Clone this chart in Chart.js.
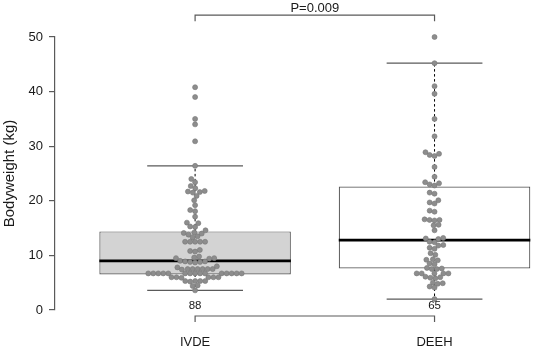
<!DOCTYPE html>
<html><head><meta charset="utf-8">
<script src="https://cdn.jsdelivr.net/npm/chart.js@4/dist/chart.umd.min.js"></script>
<style>html,body{margin:0;padding:0;background:#fff}#wrap{width:536px;height:349px}</style>
</head><body><div id="wrap"><canvas id="c" width="536" height="349"></canvas></div>
<script>
const categories = ['IVDE', 'DEEH'];
const sampleSizes = ['88', '65'];
const ivdeValues = [
  40.8, 39.0, 35.0, 34.0, 30.9,
  26.4, 24.0, 23.4, 22.7, 22.3,
  21.8, 21.7, 21.6, 21.5,
  20.9, 20.1, 19.2, 18.3, 18.1, 17.1,
  16.0, 15.9, 15.3, 15.2, 14.6,
  14.2, 14.1, 14.0, 13.8, 13.5, 13.3,
  12.5, 12.5, 12.5, 12.5, 12.5,
  11.0, 10.8, 10.7,
  9.8, 9.6, 9.5, 9.5, 9.4,
  9.0, 8.9, 8.9, 8.8, 8.8, 8.7,
  8.0, 7.8,
  7.5, 7.5, 7.5, 7.5, 7.5, 7.5, 7.4,
  6.7, 6.7, 6.7, 6.7, 6.7, 6.7, 6.7, 6.7, 6.7, 6.7, 6.7, 6.7, 6.7, 6.7, 6.7,
  6.0, 6.0, 6.0, 6.0, 6.0, 5.9,
  5.3, 5.3, 5.3, 5.3, 5.2,
  4.5, 4.4,
  3.6
];
const deehValues = [
  50.0, 45.2, 41.0, 39.6, 35.0, 31.8,
  28.9, 28.6, 28.4, 28.2,
  26.2, 24.4,
  23.4, 23.2, 23.0, 22.8,
  21.5, 21.3, 20.1, 19.7, 19.5,
  18.2, 18.0,
  16.6, 16.5, 16.5, 16.4,
  15.6, 15.5, 14.6,
  13.2, 13.1, 13.0,
  12.5, 12.4,
  11.9, 11.8, 11.4, 11.2,
  10.4, 10.1,
  9.3, 9.2, 9.1,
  8.5, 8.4,
  7.6, 7.5, 7.7, 7.5,
  6.7, 6.7, 6.7, 6.7, 6.7,
  6.0, 5.9, 5.8, 6.1,
  5.0, 4.9, 4.8,
  4.3, 4.1,
  2.0
];
const boxQ1 = [6.5, 7.6];
const boxMedian = [9.0, 12.8];
const boxQ3 = [14.4, 22.6];
const whiskerLow = [3.6, 2.0];
const whiskerHigh = [26.4, 45.2];
const yTicks = [0, 10, 20, 30, 40, 50];
const pLabel = 'P=0.009';
const bracketTop = [52.9, 54.0];
const bracketBottom = [-2.2, -1.1];
const pLabelY = 55.3;
const nLabelY = 0.85;

const FONT = "'Liberation Sans', Arial, Helvetica, sans-serif";
const groupValues = [ivdeValues, deehValues];
const boxFill = ['#d3d3d3', '#ffffff'];

const datasets = [];
groupValues.forEach((vals, g) => {
  datasets.push({
    type: 'scatter', order: 0, clip: false,
    data: vals.map(v => ({x: g + 1, y: v})),
    pointRadius: 2.5, pointHoverRadius: 2.5,
    backgroundColor: '#8d8d8d', borderColor: '#777777', borderWidth: 0.6
  });
});
const lineDs = (pts, color, width, dash, order) => ({
  type: 'line', order, clip: false, data: pts, borderColor: color, borderWidth: width,
  borderDash: dash, pointRadius: 0, pointHoverRadius: 0, fill: false, tension: 0, showLine: true
});
categories.forEach((c, g) => {
  const cx = g + 1;
  datasets.push(lineDs([{x: cx - 0.4, y: boxMedian[g]}, {x: cx + 0.4, y: boxMedian[g]}], '#000', 2.6, [], 1));
  datasets.push(lineDs([{x: cx - 0.2, y: whiskerLow[g]}, {x: cx + 0.2, y: whiskerLow[g]}], '#5a5a5a', 1.3, [], 2));
  datasets.push(lineDs([{x: cx - 0.2, y: whiskerHigh[g]}, {x: cx + 0.2, y: whiskerHigh[g]}], '#5a5a5a', 1.3, [], 2));
  datasets.push(lineDs([{x: cx, y: boxQ3[g]}, {x: cx, y: whiskerHigh[g]}], '#000', 1, [2.5, 2.5], 3));
  datasets.push(lineDs([{x: cx, y: boxQ1[g]}, {x: cx, y: whiskerLow[g]}], '#000', 1, [2.5, 2.5], 3));
});
datasets.push({
  type: 'bar', order: 5, clip: false,
  data: categories.map((c, g) => ({x: g + 1, y: [boxQ1[g], boxQ3[g]]})),
  backgroundColor: boxFill, borderColor: '#5a5a5a', borderWidth: 1.2, borderSkipped: false,
  categoryPercentage: 1, barPercentage: 0.8, grouped: false
});
datasets.push(lineDs([{x: 1, y: bracketTop[0]}, {x: 1, y: bracketTop[1]}, {x: 2, y: bracketTop[1]}, {x: 2, y: bracketTop[0]}], '#5a5a5a', 1.2, [], 4));
datasets.push(lineDs([{x: 1, y: bracketBottom[0]}, {x: 1, y: bracketBottom[1]}, {x: 2, y: bracketBottom[1]}, {x: 2, y: bracketBottom[0]}], '#5a5a5a', 1.2, [], 4));

const textPlugin = {
  id: 'texts',
  afterDatasetsDraw(chart) {
    const {ctx, scales: {x, y}} = chart;
    ctx.save();
    ctx.fillStyle = '#1a1a1a';
    ctx.textAlign = 'center';
    ctx.textBaseline = 'middle';
    ctx.font = '13px ' + FONT;
    ctx.fillText(pLabel, x.getPixelForValue(1.5), y.getPixelForValue(pLabelY));
    ctx.font = '11.5px ' + FONT;
    sampleSizes.forEach((s, g) => ctx.fillText(s, x.getPixelForValue(g + 1), y.getPixelForValue(nLabelY)));
    ctx.restore();
  }
};

const chart = new Chart(document.getElementById('c'), {
  type: 'scatter',
  data: {datasets},
  options: {
    responsive: false, animation: false, devicePixelRatio: 1,
    layout: {padding: {top: 37, left: 0, right: 0, bottom: 0}},
    plugins: {legend: {display: false}, tooltip: {enabled: false}},
    scales: {
      x: {
        type: 'linear', min: 0.4149, max: 2.4108, offset: false,
        border: {display: false}, grid: {display: false, drawTicks: false},
        afterBuildTicks: s => { s.ticks = categories.map((c, g) => ({value: g + 1})); },
        ticks: {padding: 25, color: '#1a1a1a', font: {family: FONT, size: 13}, callback: (v) => categories[Math.round(v) - 1] || '', maxRotation: 0, autoSkip: false},
        afterFit: s => { s.height = 39; }
      },
      y: {
        type: 'linear', min: 0, max: 50,
        afterBuildTicks: s => { s.ticks = yTicks.map(v => ({value: v})); },
        border: {display: true, color: '#5a5a5a', width: 1.2},
        grid: {display: true, drawOnChartArea: false, drawTicks: true, tickLength: 6, color: '#5a5a5a', lineWidth: 1.2},
        ticks: {padding: 6, color: '#1a1a1a', font: {family: FONT, size: 13}},
        title: {display: true, text: 'Bodyweight (kg)', color: '#1a1a1a', font: {family: FONT, size: 15}, padding: {top: 1, bottom: 0}},
        afterFit: s => { s.width = 55; }
      }
    }
  },
  plugins: [textPlugin]
});

function swarmOffsets(values, yScale, d) {
  const idx = values.map((v, i) => i).sort((a, b) => values[a] - values[b]);
  const placed = [];
  const off = new Array(values.length).fill(0);
  for (const i of idx) {
    const py = yScale.getPixelForValue(values[i]);
    const cands = [0];
    for (const p of placed) {
      const dy = Math.abs(p.y - py);
      if (dy < d) { const dx = Math.sqrt(d * d - dy * dy); cands.push(p.x + dx, p.x - dx); }
    }
    cands.sort((a, b) => Math.abs(a) - Math.abs(b) || a - b);
    let best = 0;
    for (const c of cands) {
      if (placed.every(p => (p.x - c) ** 2 + (p.y - py) ** 2 >= d * d - 1e-6)) { best = c; break; }
    }
    placed.push({x: best, y: py});
    off[i] = best;
  }
  return off;
}
const xs = chart.scales.x, ys = chart.scales.y;
const pxPerUnit = xs.getPixelForValue(2) - xs.getPixelForValue(1);
groupValues.forEach((vals, g) => {
  const off = swarmOffsets(vals, ys, 5.0);
  chart.data.datasets[g].data.forEach((pt, k) => { pt.x = g + 1 + off[k] / pxPerUnit; });
});
chart.update('none');
</script></body></html>
